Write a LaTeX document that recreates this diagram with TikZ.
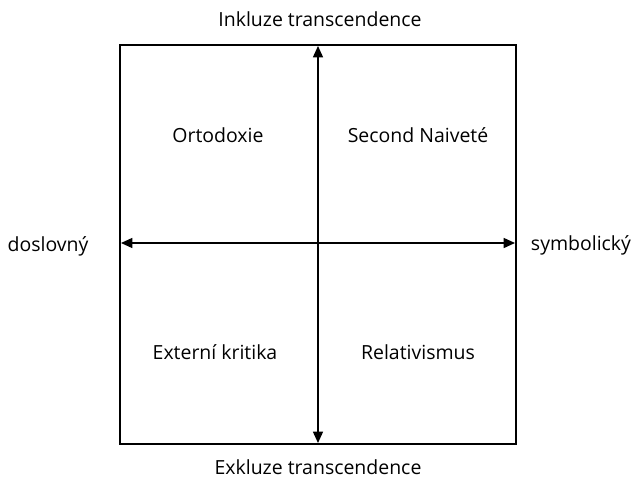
\documentclass[tikz,border=0pt]{standalone}
\usepackage{fontspec}
\setmainfont{Open Sans}
\usetikzlibrary{arrows.meta}

\begin{document}
\begin{tikzpicture}[x=0.75pt,y=-0.75pt,>={Triangle[length=8.5pt,width=7.5pt]},line width=1.1pt,
  lbl/.style={font=\fontsize{14.6}{17}\selectfont}]
\useasboundingbox (0,0) rectangle (644,480);
\def\xl{120} \def\xr{516} \def\yt{45} \def\yb{444}
% frame
\draw[line width=1pt] (\xl,\yt) rectangle (\xr,\yb);
% axes
\coordinate (top) at (318,\yt+1);
\coordinate (bot) at (318,\yb-1);
\coordinate (lft) at (\xl+1,243);
\coordinate (rgt) at (\xr-1,243);
\draw[<->] (top) -- (bot);
\draw[<->] (lft) -- (rgt);
% axis labels
\node[lbl] (incl) at (320,19) {Inkluze transcendence};
\node[lbl] (excl) at (318,467) {Exkluze transcendence};
\node[lbl] (lit) at (48,246) {doslovný};
\node[lbl] (sym) at (581,245) {symbolický};
% quadrants
\node[lbl] (orto) at (218,135) {Ortodoxie};
\node[lbl] (naiv) at (418,135) {Second Naiveté};
\node[lbl] (ext) at (215,352) {Externí kritika};
\node[lbl] (rel) at (418,352) {Relativismus};
\end{tikzpicture}
\end{document}
